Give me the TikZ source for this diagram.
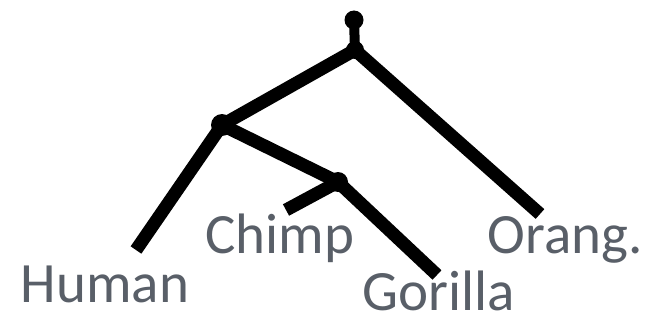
\documentclass[tikz,border=0pt]{standalone}
\usepackage{fontspec}
\setmainfont{Carlito}
\definecolor{labelgray}{RGB}{89,95,104}
\begin{document}
\begin{tikzpicture}[x=1pt,y=-1pt,
  branch/.style={line width=13pt,line join=round,line cap=butt},
  blob/.style={fill=black,circle,inner sep=0pt,minimum size=20pt},
  taxon/.style={text=labelgray,font=\fontsize{57}{62}\selectfont,inner sep=0pt,anchor=base}]
\useasboundingbox (0,0) rectangle (648,321);
\coordinate (knob) at (354,20);
\coordinate (root) at (355,50);
\coordinate (hcg) at (222,125);
\coordinate (cg) at (338,182);
\coordinate (hend) at (136,250);
\coordinate (oend) at (540,214);
\coordinate (cend) at (286,210);
\coordinate (gend) at (437,275);
% branches
\draw[branch] (hend) -- (hcg) -- (root) -- (oend);
\draw[branch] (hcg) -- (cg) -- (gend);
\draw[branch] (cend) -- (cg);
\draw[line width=10pt] (knob) -- (root);
\node[blob,minimum size=19pt] at (knob) {};
\node[blob,minimum size=18pt] at (root) {};
\node[blob,minimum size=22pt] at (hcg) {};
\node[blob,minimum size=20pt] at (cg) {};
% labels
\node[taxon] (human) at (105,302) {Human};
\node[taxon] (chimp) at (280,253) {Chimp};
\node[taxon] (gorilla) at (439,310) {Gorilla};
\node[taxon] (orang) at (565,253) {Orang.};
\end{tikzpicture}
\end{document}
